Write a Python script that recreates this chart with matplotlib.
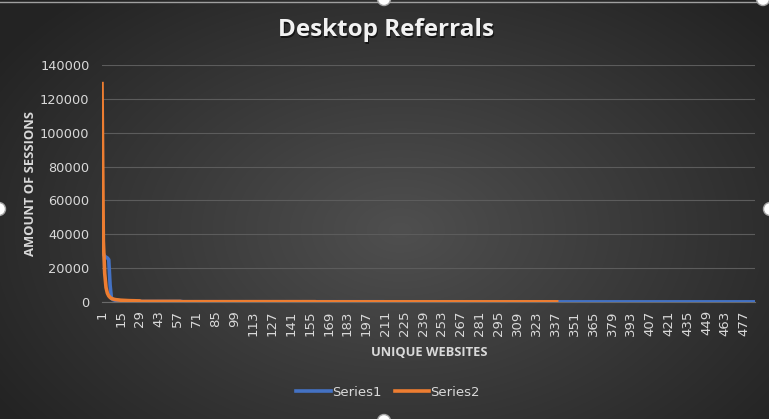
import numpy as np
import matplotlib.pyplot as plt
from matplotlib.patches import Circle

# ---------------------------------
# Data
# ---------------------------------
series1_head = [30500, 28500, 27000, 26500, 26000, 25000, 10000, 2200, 1500, 1200,
                1000, 900, 800, 700, 650, 600, 550, 500, 480, 450]
series1_tail = [300] * 40 + [150] * 150 + [80] * 275
series2_head = [129000, 36000, 17000, 8500, 5200, 3600, 2700, 2100, 1800, 1600,
                1400, 1300, 1200, 1100, 1050, 1000, 950, 900, 870, 840,
                810, 790, 770, 750, 730, 710, 690, 670, 650]
series2_tail = [350] * 30 + [180] * 100 + [100] * 179

series1 = np.array(series1_head + series1_tail)
series2 = np.array(series2_head + series2_tail)
x1 = np.arange(1, len(series1) + 1)
x2 = np.arange(1, len(series2) + 1)
xticks = np.arange(1, len(series1) + 1, 14)

W, H = 769, 419
fig = plt.figure(figsize=(W / 100, H / 100), dpi=100)

# dark radial gradient background
bg = fig.add_axes([0, 0, 1, 1], zorder=-10)
yy, xx = np.mgrid[0:H, 0:W]
r = np.sqrt(((xx - 0.52 * W) / (0.62 * W)) ** 2 + ((yy - 0.55 * H) / (0.75 * H)) ** 2)
g = np.clip(0.31 - 0.17 * r, 0.14, 0.31)
img = np.dstack([g, g, g])
bg.imshow(img, extent=[0, W, H, 0], aspect='auto', interpolation='bilinear')
bg.set_xlim(0, W)
bg.set_ylim(H, 0)
bg.axis('off')

# selection frame and handles (pixel coords, origin bottom-left)
fig.lines.append(plt.Line2D([0, W], [H - 1.5, H - 1.5], transform=None, color='#a0a0a0', lw=1))
for (cx, cy) in [(384, H + 1), (763, H + 1), (-1, 210), (770, 210), (384, -2)]:
    fig.patches.append(Circle((cx, cy), 6.5, transform=None, facecolor='white',
                              edgecolor='#a6a6a6', lw=1, zorder=10))

ax = fig.add_axes([102 / W, 1 - 302 / H, (755 - 102) / W, (302 - 65) / H])
ax.set_facecolor('none')
ax.plot(x1, series1, color='#4472C4', lw=2.6, label='Series1', solid_joinstyle='round')
ax.plot(x2, series2, color='#ED7D31', lw=2.6, label='Series2', solid_joinstyle='round')
ax.set_xlim(1, len(series1))
ax.set_ylim(0, 140000)
ax.set_yticks(np.arange(0, 140001, 20000))
ax.set_xticks(xticks)
ax.set_xticklabels([str(t) for t in xticks], rotation=90, fontsize=9.5, color='#d9d9d9')
ax.tick_params(axis='y', labelsize=9.3, labelcolor='#d9d9d9', length=0, pad=9)
ax.tick_params(axis='x', length=0, pad=6)
ax.grid(axis='y', color='#5c5c5c', lw=0.8)
ax.set_axisbelow(True)
for s in ['top', 'right', 'left']:
    ax.spines[s].set_visible(False)
ax.spines['bottom'].set_color('#6a6a6a')
ax.spines['bottom'].set_zorder(0)

fig.text(387 / W, 1 - 32 / H, 'Desktop Referrals', ha='center', va='center',
         fontsize=17.5, fontweight='bold', color='#151515', family='Open Sans')
fig.text(385.5 / W, 1 - 30.5 / H, 'Desktop Referrals', ha='center', va='center',
         fontsize=17.5, fontweight='bold', color='#f2f2f2', family='Open Sans')
fig.text(30 / W, 1 - 184 / H, 'AMOUNT OF SESSIONS', rotation=90, ha='center', va='center',
         fontsize=9.4, fontweight='bold', color='#d9d9d9', family='Open Sans')
fig.text(429 / W, 1 - 352 / H, 'UNIQUE WEBSITES', ha='center', va='center',
         fontsize=9.3, fontweight='bold', color='#d9d9d9', family='Open Sans')

leg = fig.legend(loc='center', bbox_to_anchor=(388 / W, 1 - 392 / H), ncol=2, frameon=False,
                 fontsize=9.5, handlelength=2.6, handletextpad=0.1, columnspacing=1.0)
for t in leg.get_texts():
    t.set_color('#d9d9d9')

fig.savefig('out.png', dpi=100)
